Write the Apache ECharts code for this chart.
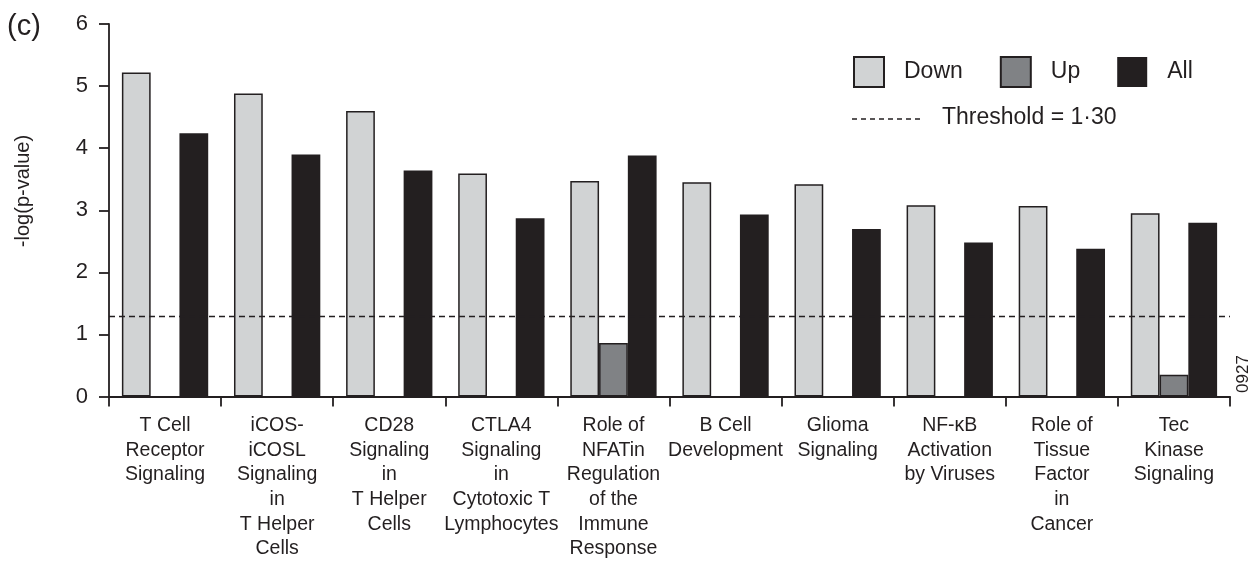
<!DOCTYPE html>
<html>
<head>
<meta charset="utf-8">
<script src="https://cdn.jsdelivr.net/npm/echarts@6/dist/echarts.min.js"></script>
<style>
  html, body { margin: 0; padding: 0; background: #ffffff; }
  #chart { width: 1249px; height: 562px; }
</style>
</head>
<body>
<div id="chart"></div>
<script>
// Canonical pathways, -log(p-value) per gene set
const categories = [
  'T Cell\nReceptor\nSignaling',
  'iCOS-\niCOSL\nSignaling\nin\nT Helper\nCells',
  'CD28\nSignaling\nin\nT Helper\nCells',
  'CTLA4\nSignaling\nin\nCytotoxic T\nLymphocytes',
  'Role of\nNFATin\nRegulation\nof the\nImmune\nResponse',
  'B Cell\nDevelopment',
  'Glioma\nSignaling',
  'NF-κB\nActivation\nby Viruses',
  'Role of\nTissue\nFactor\nin\nCancer',
  'Tec\nKinase\nSignaling'
];
const downValues = [5.22, 4.88, 4.60, 3.59, 3.47, 3.45, 3.42, 3.08, 3.07, 2.95];
const upValues   = [null, null, null, null, 0.86, null, null, null, null, 0.35];
const allValues  = [4.24, 3.90, 3.64, 2.87, 3.88, 2.93, 2.70, 2.48, 2.38, 2.80];
const threshold = 1.30;
const thresholdLabel = 'Threshold = 1·30';
const yTicks = [0, 1, 2, 3, 4, 5, 6];

const INK = '#231f20';
const FONT = '"Liberation Sans", Arial, Helvetica, sans-serif';

const chart = echarts.init(document.getElementById('chart'), null, { renderer: 'canvas' });

chart.setOption({
  animation: false,
  backgroundColor: '#ffffff',
  textStyle: { fontFamily: FONT, color: INK },
  title: {
    text: '(c)',
    left: 7,
    top: 12,
    padding: 0,
    textStyle: { fontFamily: FONT, fontSize: 29, fontWeight: 'normal', color: INK }
  },
  grid: { left: 109, right: 19, top: 24, bottom: 165.5, containLabel: false },
  legend: {
    data: ['Down', 'Up', 'All'],
    left: 853,
    top: 56,
    padding: 0,
    itemWidth: 30,
    itemHeight: 30,
    itemGap: 37,
    icon: 'rect',
    selectedMode: false,
    textStyle: { fontFamily: FONT, fontSize: 23, color: INK, padding: [0, 0, 0, 15] }
  },
  xAxis: {
    type: 'category',
    data: categories,
    boundaryGap: true,
    axisLine: { lineStyle: { color: INK, width: 1.8 } },
    axisTick: { show: true, length: 10, inside: false, lineStyle: { color: INK, width: 1.8 } },
    axisLabel: {
      interval: 0,
      margin: 17,
      fontFamily: FONT,
      fontSize: 19.5,
      lineHeight: 24.6,
      color: INK,
      align: 'center',
      verticalAlign: 'top'
    },
    splitLine: { show: false }
  },
  yAxis: {
    type: 'value',
    min: yTicks[0],
    max: yTicks[yTicks.length - 1],
    interval: 1,
    axisLine: { show: true, lineStyle: { color: INK, width: 1.8 } },
    axisTick: { show: true, length: 10, lineStyle: { color: INK, width: 1.8 } },
    axisLabel: { margin: 21, fontFamily: FONT, fontSize: 22, color: INK },
    splitLine: { show: false }
  },
  series: [
    {
      name: 'Down',
      type: 'bar',
      data: downValues,
      barGap: '0%',
      barCategoryGap: '23%',
      itemStyle: { color: '#d1d3d4', borderColor: INK, borderWidth: 1.5 }
    },
    {
      name: 'Up',
      type: 'bar',
      data: upValues,
      itemStyle: { color: '#808285', borderColor: INK, borderWidth: 1.5 }
    },
    {
      name: 'All',
      type: 'bar',
      data: allValues,
      itemStyle: { color: INK, borderColor: INK, borderWidth: 0 },
      markLine: {
        silent: true,
        symbol: ['none', 'none'],
        label: { show: false },
        lineStyle: { color: INK, width: 1.3, type: [6, 4] },
        data: [{ yAxis: threshold }]
      }
    }
  ],
  graphic: [
    {
      // y-axis title
      type: 'text',
      x: 23,
      y: 191,
      rotation: Math.PI / 2,
      style: { text: '-log(p-value)', font: '20px ' + FONT, fill: INK, align: 'center', verticalAlign: 'middle' }
    },
    {
      // threshold key
      type: 'line',
      shape: { x1: 852, y1: 119, x2: 922, y2: 119 },
      style: { stroke: INK, lineWidth: 1.3, lineDash: [5, 4] }
    },
    {
      type: 'text',
      left: 942,
      top: 106,
      style: { text: thresholdLabel, font: '23px ' + FONT, fill: INK }
    },
    {
      type: 'text',
      x: 1243,
      y: 374,
      rotation: Math.PI / 2,
      style: { text: '0927', font: '17px ' + FONT, fill: INK, align: 'center', verticalAlign: 'middle' }
    }
  ]
});
</script>
</body>
</html>
